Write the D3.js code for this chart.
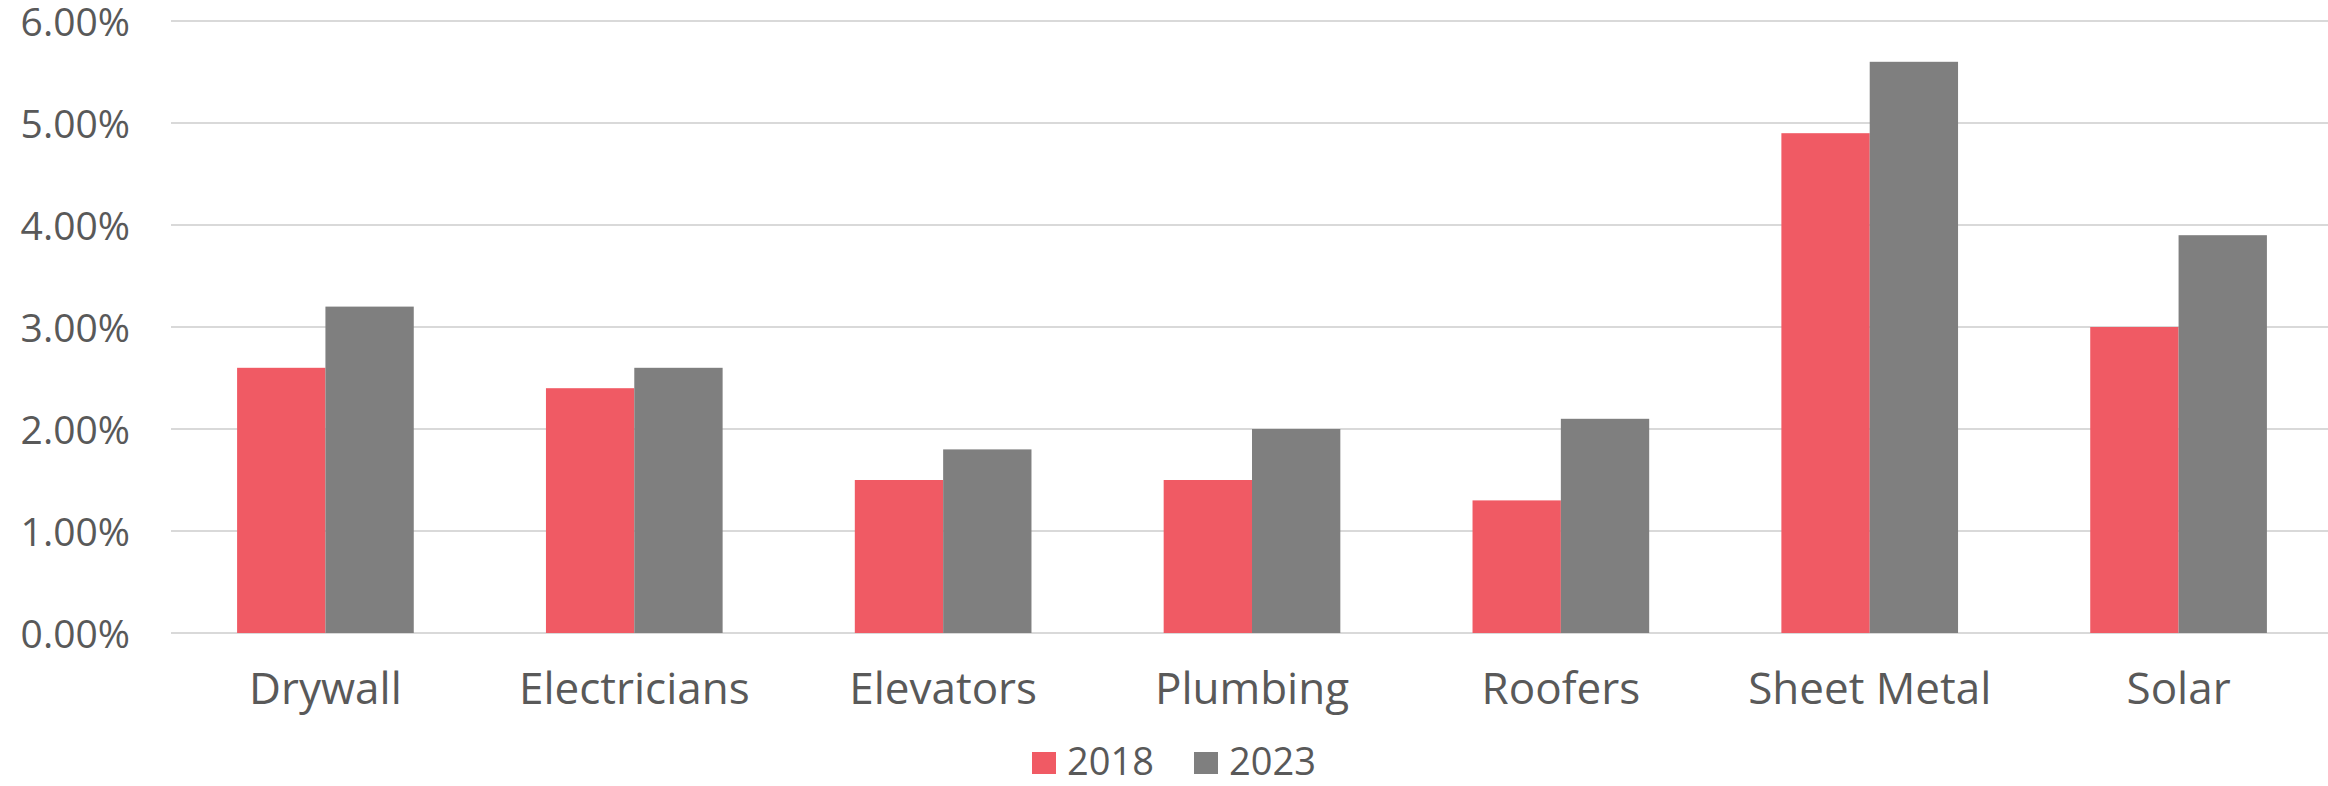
<!DOCTYPE html>
<html>
<head>
<meta charset="utf-8">
<script src="https://cdn.jsdelivr.net/npm/d3@7"></script>
<style>
  body { margin: 0; background: #fff; }
  svg text { font-family: "Open Sans", "Noto Sans", sans-serif; fill: #595959; }
</style>
</head>
<body>
<svg id="chart" width="2328" height="786"></svg>
<script>
var categories = ["Drywall", "Electricians", "Elevators", "Plumbing", "Roofers", "Sheet Metal", "Solar"];
var seriesNames = ["2018", "2023"];
var values2018 = [2.6, 2.4, 1.5, 1.5, 1.3, 4.9, 3.0];
var values2023 = [3.2, 2.6, 1.8, 2.0, 2.1, 5.6, 3.9];
var yTicks = [0, 1, 2, 3, 4, 5, 6];

var colors = ["#F05A64", "#7F7F7F"];
var svg = d3.select("#chart");
var plotLeft = 171, plotRight = 2333, plotTop = 21, plotBottom = 633;

var rows = categories.map(function(c, i){
  return {cat: c, vals: [values2018[i], values2023[i]]};
});

var xScale = d3.scaleBand()
  .domain(categories)
  .range([plotLeft, plotRight])
  .paddingInner(0.428)
  .paddingOuter(0.214);

var xInner = d3.scaleBand()
  .domain(seriesNames)
  .range([0, xScale.bandwidth()]);

var yScale = d3.scaleLinear()
  .domain([0, 6])
  .range([plotBottom, plotTop]);

// gridlines
svg.append("g")
  .selectAll("line")
  .data(yTicks)
  .enter()
  .append("line")
    .attr("x1", plotLeft)
    .attr("x2", 2328)
    .attr("y1", function(d){ return yScale(d); })
    .attr("y2", function(d){ return yScale(d); })
    .attr("stroke", "#D9D9D9")
    .attr("stroke-width", 2);

// y axis labels
var yAxis = d3.axisLeft(yScale)
  .tickValues(yTicks)
  .tickSize(0)
  .tickPadding(41)
  .tickFormat(function(d){ return d.toFixed(2) + "%"; });

svg.append("g")
  .attr("transform", "translate(" + plotLeft + ",0)")
  .call(yAxis)
  .call(function(g){ g.select(".domain").remove(); })
  .selectAll("text")
    .attr("font-size", 39)
    .attr("font-family", null)
    .attr("dy", "0.36em");

// bars
var groups = svg.append("g")
  .selectAll("g")
  .data(rows)
  .enter()
  .append("g")
    .attr("transform", function(d){ return "translate(" + xScale(d.cat) + ",0)"; });

groups.selectAll("rect")
  .data(function(d){ return d.vals; })
  .enter()
  .append("rect")
    .attr("x", function(d, i){ return xInner(seriesNames[i]); })
    .attr("y", function(d){ return yScale(d); })
    .attr("width", xInner.bandwidth())
    .attr("height", function(d){ return yScale(0) - yScale(d); })
    .attr("fill", function(d, i){ return colors[i]; });

// category labels
var xAxis = d3.axisBottom(xScale)
  .tickSize(0)
  .tickPadding(0);

svg.append("g")
  .attr("transform", "translate(0," + plotBottom + ")")
  .call(xAxis)
  .call(function(g){ g.select(".domain").remove(); })
  .selectAll("text")
    .attr("font-size", 44)
    .attr("font-family", null)
    .attr("dy", 0)
    .attr("y", 71);

// legend
var legendX = [1032, 1194];
var legend = svg.append("g");
seriesNames.forEach(function(name, i){
  legend.append("rect")
    .attr("x", legendX[i])
    .attr("y", 752)
    .attr("width", 24)
    .attr("height", 22)
    .attr("fill", colors[i]);
  legend.append("text")
    .attr("x", legendX[i] + 35)
    .attr("y", 775)
    .attr("font-size", 38)
    .text(name);
});
</script>
</body>
</html>
